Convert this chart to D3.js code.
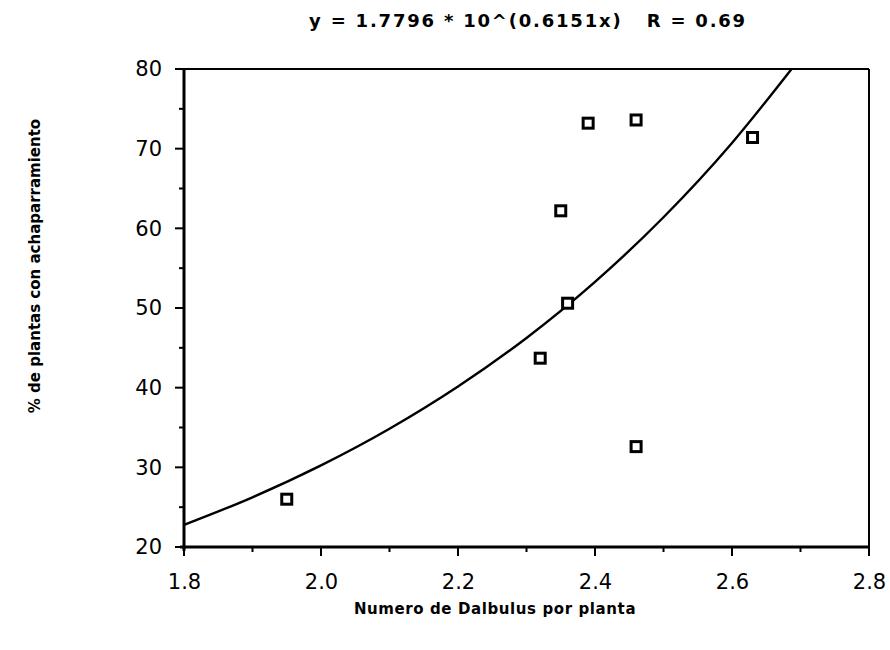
<!DOCTYPE html>
<html>
<head>
<meta charset="utf-8">
<script src="https://cdn.jsdelivr.net/npm/d3@7"></script>
<style>
  html, body { margin: 0; padding: 0; background: #fff; }
  svg { display: block; }
  text { font-family: "DejaVu Sans", sans-serif; fill: #000; }
</style>
</head>
<body>
<svg id="chart" width="890" height="650"></svg>
<script>
// ---- data ----
const pointX = [1.95, 2.32, 2.36, 2.35, 2.39, 2.46, 2.46, 2.63];
const pointY = [26.0, 43.7, 50.6, 62.2, 73.2, 73.6, 32.6, 71.4];
// fitted curve y = 1.7796 * 10^(0.6151x), sampled values
const curveX = [1.8, 1.9, 2.0, 2.1, 2.2, 2.3, 2.4, 2.5, 2.6, 2.687];
const curveY = [22.78, 26.24, 30.24, 34.84, 40.14, 46.24, 53.28, 61.39, 70.72, 80.0];
const xTickLabels = ["1.8", "2.0", "2.2", "2.4", "2.6", "2.8"];
const yTickLabels = ["20", "30", "40", "50", "60", "70", "80"];
const titleText = "y = 1.7796 * 10^(0.6151x)   R = 0.69";
const xTitle = "Numero de Dalbulus por planta";
const yTitle = "% de plantas con achaparramiento";

(function () {
const svg = d3.select("#chart");
const pLeft = 184, pRight = 869, pTop = 69, pBottom = 547;

const x = d3.scaleLinear().domain([1.8, 2.8]).range([pLeft, pRight]);
const y = d3.scaleLinear().domain([20, 80]).range([pBottom, pTop]);

// frame (top and right)
svg.append("line").attr("x1", pLeft).attr("x2", pRight).attr("y1", pTop).attr("y2", pTop)
  .attr("stroke", "#000").attr("stroke-width", 2);
svg.append("line").attr("x1", pRight).attr("x2", pRight).attr("y1", pTop).attr("y2", pBottom)
  .attr("stroke", "#000").attr("stroke-width", 2);

// minor ticks
const xMinor = d3.range(0, 11).map(i => 1.8 + i * 0.1);
svg.append("g").selectAll("line").data(xMinor).join("line")
  .attr("x1", d => x(d)).attr("x2", d => x(d))
  .attr("y1", pBottom).attr("y2", (d, i) => pBottom + (i % 2 === 0 ? 9 : 5))
  .attr("stroke", "#000").attr("stroke-width", 2);
const yMinor = d3.range(0, 13).map(i => 20 + i * 5);
svg.append("g").selectAll("line").data(yMinor).join("line")
  .attr("y1", d => y(d)).attr("y2", d => y(d))
  .attr("x1", pLeft).attr("x2", (d, i) => pLeft - (i % 2 === 0 ? 9 : 5))
  .attr("stroke", "#000").attr("stroke-width", 2);

// axes
const xAxis = d3.axisBottom(x).tickValues(xTickLabels.map(Number))
  .tickFormat((d, i) => xTickLabels[i]).tickSize(0).tickPadding(27);
const gx = svg.append("g").attr("transform", `translate(0,${pBottom})`).call(xAxis);
gx.select(".domain").attr("stroke", "#000").attr("stroke-width", 3).attr("d", `M${pLeft - 4},0H${pRight}`);
gx.selectAll("text").attr("font-size", 21).attr("font-family", "DejaVu Sans").attr("fill", "#000");

const yAxis = d3.axisLeft(y).tickValues(yTickLabels.map(Number))
  .tickFormat((d, i) => yTickLabels[i]).tickSize(0).tickPadding(22);
const gy = svg.append("g").attr("transform", `translate(${pLeft},0)`).call(yAxis);
gy.select(".domain").attr("stroke", "#000").attr("stroke-width", 3).attr("d", `M0,${pTop}V${pBottom + 4}`);
gy.selectAll("text").attr("font-size", 21).attr("font-family", "DejaVu Sans").attr("fill", "#000");

// fitted curve
const line = d3.line().x(d => x(d[0])).y(d => y(d[1])).curve(d3.curveMonotoneX);
svg.append("path").datum(curveX.map((v, i) => [v, curveY[i]]))
  .attr("d", line).attr("fill", "none").attr("stroke", "#000").attr("stroke-width", 2.4);

// points
svg.append("g").selectAll("rect").data(pointX.map((v, i) => [v, pointY[i]])).join("rect")
  .attr("x", d => x(d[0]) - 5).attr("y", d => y(d[1]) - 5)
  .attr("width", 10).attr("height", 10)
  .attr("fill", "#fff").attr("stroke", "#000").attr("stroke-width", 3);

// titles
svg.append("text").attr("x", 528).attr("y", 27).attr("text-anchor", "middle")
  .attr("font-size", 18).attr("font-weight", "bold").attr("letter-spacing", 1.8)
  .style("white-space", "pre").text(titleText);
svg.append("text").attr("x", 495).attr("y", 614).attr("text-anchor", "middle")
  .attr("font-size", 15).attr("font-weight", "bold").attr("letter-spacing", 0.6).text(xTitle);
svg.append("text").attr("transform", "translate(40,266) rotate(-90)").attr("text-anchor", "middle")
  .attr("font-size", 15).attr("font-weight", "bold").text(yTitle);
})();
</script>
</body>
</html>
